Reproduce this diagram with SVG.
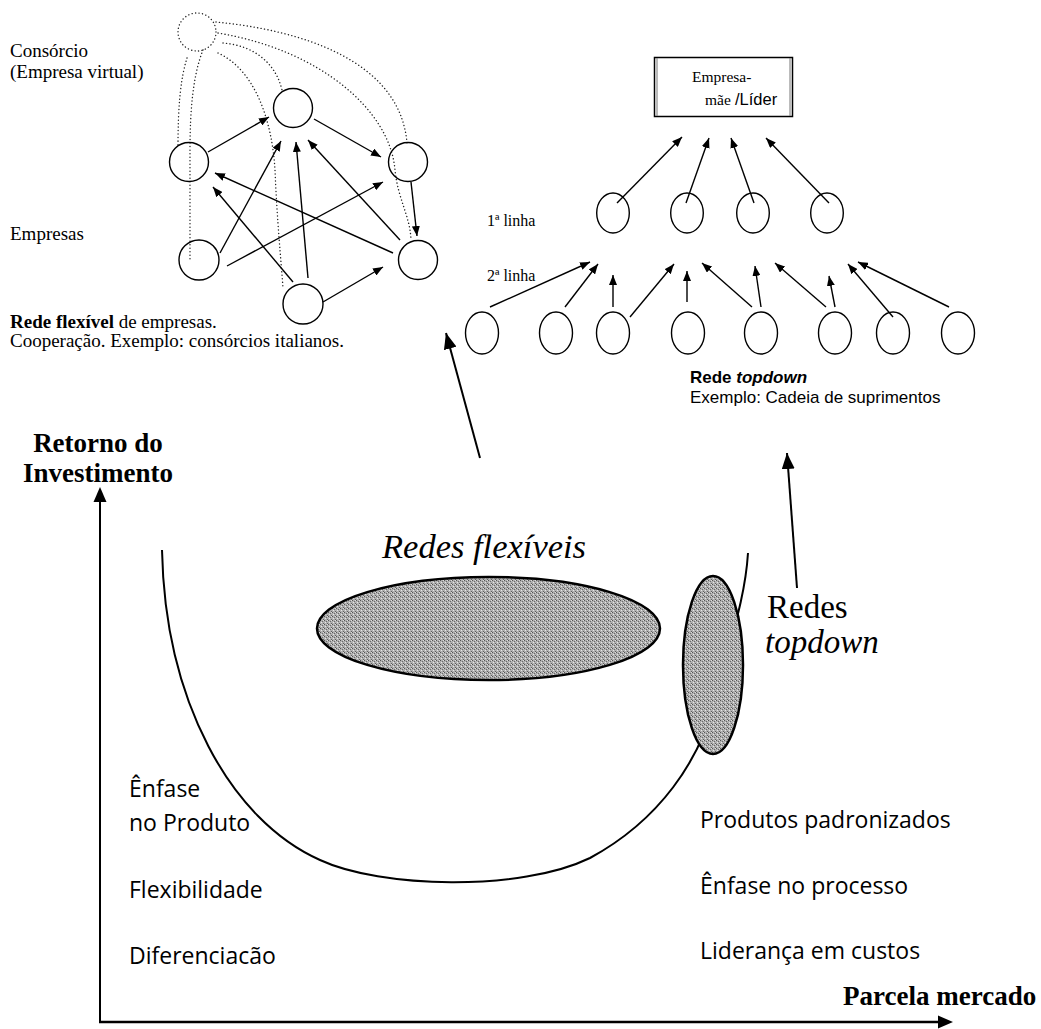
<svg xmlns="http://www.w3.org/2000/svg" width="1041" height="1029" viewBox="0 0 1041 1029">
  <defs>
    <marker id="ah" markerUnits="userSpaceOnUse" markerWidth="10" markerHeight="8" viewBox="0 0 10 8" refX="10" refY="4" orient="auto">
      <path d="M0,0L10,4L0,8z" fill="#000"/>
    </marker>
    <marker id="ahBig" markerUnits="userSpaceOnUse" markerWidth="16" markerHeight="13" viewBox="0 0 16 13" refX="16" refY="6.5" orient="auto">
      <path d="M0,0L16,6.5L0,13z" fill="#000"/>
    </marker>
    <!-- stippled grey fill for the two market-position ellipses -->
    <pattern id="grain" width="4" height="4" patternUnits="userSpaceOnUse">
      <rect width="4" height="4" fill="#b0b0b0"/>
      <rect x="0" y="0" width="1" height="1" fill="#555"/>
      <rect x="2" y="1" width="1" height="1" fill="#6a6a6a"/>
      <rect x="1" y="2" width="1" height="1" fill="#e6e6e6"/>
      <rect x="3" y="3" width="1" height="1" fill="#606060"/>
      <rect x="3" y="0" width="1" height="1" fill="#dcdcdc"/>
    </pattern>
  </defs>
  <style>
    .t{font-family:"Liberation Serif","Times New Roman",serif;fill:#000}
    .s{font-family:"Liberation Sans",Arial,sans-serif;fill:#000}
    .c{font-family:"Open Sans","Noto Sans",sans-serif;fill:#000;font-size:23px}
    .n{fill:none;stroke:#000;stroke-width:1.4}
    .a{stroke:#000;stroke-width:1.4;fill:none;marker-end:url(#ah)}
    .big{stroke:#000;stroke-width:2;fill:none;marker-end:url(#ahBig)}
    .d{stroke:#222;stroke-width:1.4;fill:none;stroke-dasharray:0.1 3.4;stroke-linecap:round}
  </style>

  <rect width="1041" height="1029" fill="#fff"/>

  <!-- ===== Flexible network (top left) ===== -->
  <g id="flex-labels">
    <text class="t" x="10" y="57" font-size="19">Consórcio</text>
    <text class="t" x="10" y="78" font-size="19">(Empresa virtual)</text>
    <text class="t" x="10" y="240" font-size="19">Empresas</text>
    <text class="t" x="10" y="328" font-size="19"><tspan font-weight="bold">Rede flexível</tspan> de empresas.</text>
    <text class="t" x="10" y="347" font-size="19">Cooperação. Exemplo: consórcios italianos.</text>
  </g>

  <g id="flex-virtual-links">
    <path class="d" d="M216,22 C300,30 400,60 407,143"/>
    <path class="d" d="M218,33 C320,50 390,110 395,170 C398,200 410,215 411,240"/>
    <path class="d" d="M223,43 C250,45 275,60 282,90"/>
    <path class="d" d="M218,53 C255,70 272,120 275,170 C277,220 281,260 283,288"/>
    <path class="d" d="M187,58 C180,80 178,110 178,146"/>
    <path class="d" d="M203,50 C193,75 190,110 190,150 L190,262"/>
  </g>

  <g id="consorcio"><circle class="d" cx="197" cy="32" r="19"/></g>
  <g id="flex-top"><circle class="n" cx="293" cy="108" r="19.5"/></g>
  <g id="flex-left"><circle class="n" cx="189" cy="162" r="19.5"/></g>
  <g id="flex-right"><circle class="n" cx="408" cy="162" r="19.5"/></g>
  <g id="flex-lower-left"><circle class="n" cx="199" cy="260" r="20"/></g>
  <g id="flex-bottom"><circle class="n" cx="303" cy="304" r="20"/></g>
  <g id="flex-lower-right"><circle class="n" cx="418" cy="260" r="19.5"/></g>

  <g id="flex-connectors">
    <line class="a" x1="208" y1="152" x2="269" y2="117"/>
    <line class="a" x1="314" y1="119" x2="381" y2="157"/>
    <line class="a" x1="220" y1="253" x2="281" y2="141"/>
    <line class="a" x1="227" y1="266" x2="383" y2="182"/>
    <line class="a" x1="308" y1="278" x2="296" y2="142"/>
    <line class="a" x1="293" y1="282" x2="213" y2="187"/>
    <line class="a" x1="323" y1="302" x2="383" y2="267"/>
    <line class="a" x1="400" y1="240" x2="308" y2="140"/>
    <line class="a" x1="393" y1="253" x2="215" y2="173"/>
    <line class="a" x1="411" y1="182" x2="417" y2="236"/>
  </g>

  <!-- ===== Top-down network (top right) ===== -->
  <g id="lider">
    <rect x="654.5" y="57.5" width="138" height="59" fill="#fff" stroke="#000" stroke-width="1.5"/>
    <line x1="657" y1="58" x2="657" y2="116" stroke="#777" stroke-width="1"/>
    <line x1="790" y1="58" x2="790" y2="116" stroke="#777" stroke-width="1"/>
    <text class="t" x="692" y="82" font-size="15.5">Empresa-</text>
    <text class="t" x="705" y="105" font-size="15.5">mãe</text>
    <text class="s" x="735" y="105" font-size="16.5">/Líder</text>
  </g>

  <g id="row-labels">
    <text class="t" x="487" y="226" font-size="16">1ª linha</text>
    <text class="t" x="487" y="281" font-size="16">2ª linha</text>
  </g>

  <g id="tier1">
    <ellipse class="n" cx="613" cy="213" rx="16.3" ry="20"/>
    <ellipse class="n" cx="687" cy="213" rx="16.3" ry="20"/>
    <ellipse class="n" cx="753" cy="213" rx="16.3" ry="20"/>
    <ellipse class="n" cx="827" cy="213" rx="16.3" ry="20"/>
  </g>

  <g id="tier2">
    <ellipse class="n" cx="482" cy="333" rx="16.5" ry="21"/>
    <ellipse class="n" cx="556" cy="333" rx="16.5" ry="21"/>
    <ellipse class="n" cx="613" cy="333" rx="16.5" ry="21"/>
    <ellipse class="n" cx="688" cy="333" rx="16.5" ry="21"/>
    <ellipse class="n" cx="761" cy="333" rx="16.5" ry="21"/>
    <ellipse class="n" cx="835" cy="333" rx="16.5" ry="21"/>
    <ellipse class="n" cx="893" cy="333" rx="16.5" ry="21"/>
    <ellipse class="n" cx="958" cy="333" rx="16.5" ry="21"/>
  </g>

  <g id="topdown-connectors">
    <line class="a" x1="617" y1="203" x2="682" y2="137"/>
    <line class="a" x1="686" y1="203" x2="709" y2="138"/>
    <line class="a" x1="754" y1="203" x2="731" y2="138"/>
    <line class="a" x1="829" y1="203" x2="766" y2="138"/>

    <line class="a" x1="490" y1="307" x2="590" y2="262"/>
    <line class="a" x1="565" y1="307" x2="598" y2="264"/>
    <line class="a" x1="613" y1="307" x2="613" y2="275"/>
    <line class="a" x1="630" y1="317" x2="674" y2="264"/>
    <line class="a" x1="687" y1="302" x2="687" y2="271"/>
    <line class="a" x1="752" y1="307" x2="702" y2="263"/>
    <line class="a" x1="761" y1="307" x2="755" y2="266"/>
    <line class="a" x1="826" y1="307" x2="775" y2="263"/>
    <line class="a" x1="835" y1="307" x2="829" y2="276"/>
    <line class="a" x1="893" y1="317" x2="848" y2="264"/>
    <line class="a" x1="949" y1="307" x2="858" y2="262"/>
  </g>

  <g id="topdown-caption">
    <text class="s" x="690" y="383" font-size="17" font-weight="bold">Rede <tspan font-style="italic">topdown</tspan></text>
    <text class="s" x="690" y="403" font-size="17">Exemplo: Cadeia de suprimentos</text>
  </g>

  <!-- ===== Pointers from the chart up to the network sketches ===== -->
  <g id="pointers">
    <line class="big" x1="480" y1="458" x2="446" y2="333"/>
    <line class="big" x1="797" y1="588" x2="787" y2="453"/>
  </g>

  <!-- ===== U-curve chart ===== -->
  <g id="axes">
    <line x1="100" y1="1022" x2="100" y2="500" stroke="#000" stroke-width="2"/>
    <path d="M100,487 L106.5,502 L93.5,502 z" fill="#000"/>
    <line x1="99" y1="1022" x2="940" y2="1022" stroke="#000" stroke-width="2.5"/>
    <path d="M953,1022 L938,1015.5 L938,1028.5 z" fill="#000"/>
    <text class="t" x="98" y="452" font-size="27" font-weight="bold" text-anchor="middle">Retorno do</text>
    <text class="t" x="98" y="482" font-size="27" font-weight="bold" text-anchor="middle">Investimento</text>
    <text class="t" x="843" y="1005" font-size="27" font-weight="bold">Parcela mercado</text>
  </g>

  <g id="curve">
    <path d="M162,550 C165,700 230,820 320,860 C380,888 520,892 590,858 C660,820 700,760 715,700 C730,640 745,600 748,553" fill="none" stroke="#000" stroke-width="2"/>
  </g>

  <g id="redes-flexiveis">
    <ellipse cx="488.5" cy="628.5" rx="171.5" ry="51.5" fill="url(#grain)" stroke="#000" stroke-width="2.5"/>
    <text class="t" x="382" y="558" font-size="34.5" font-style="italic">Redes flexíveis</text>
  </g>

  <g id="redes-topdown">
    <ellipse cx="713" cy="665" rx="30" ry="89" fill="url(#grain)" stroke="#000" stroke-width="2.5"/>
    <text class="t" x="767" y="618" font-size="33">Redes</text>
    <text class="t" x="765" y="653" font-size="33" font-style="italic">topdown</text>
  </g>

  <g id="left-notes">
    <text class="c" x="129" y="797">Ênfase</text>
    <text class="c" x="129" y="831">no Produto</text>
    <text class="c" x="129" y="898">Flexibilidade</text>
    <text class="c" x="129" y="964">Diferenciacão</text>
  </g>

  <g id="right-notes">
    <text class="c" x="700" y="828">Produtos padronizados</text>
    <text class="c" x="700" y="894">Ênfase no processo</text>
    <text class="c" x="700" y="959">Liderança em custos</text>
  </g>
</svg>
